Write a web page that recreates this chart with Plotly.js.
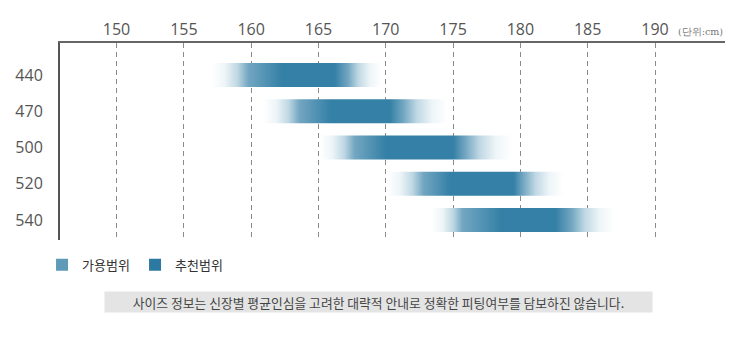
<!DOCTYPE html>
<html>
<head>
<meta charset="utf-8">
<script src="https://cdn.plot.ly/plotly-3.0.1.min.js"></script>
<style>html,body{margin:0;padding:0;background:#fff;}#chart{width:746px;height:351px;}</style>
</head>
<body>
<div id="chart"></div>
<script>
// Sizes (rows) and height ranges in cm
const sizes      = ['440', '470', '500', '520', '540'];
const fadeStart  = [157.1, 160.9, 165.1, 170.1, 173.4];
const availStart = [159.8, 163.6, 167.7, 172.8, 175.7];
const recStart   = [162.3, 165.9, 170.0, 174.8, 178.6];
const recEnd     = [166.2, 170.3, 175.0, 179.5, 182.6];
const availEnd   = [167.2, 171.3, 175.9, 180.2, 183.8];
const fadeEnd    = [169.7, 174.6, 179.4, 183.2, 187.0];
const xTicks     = [150, 155, 160, 165, 170, 175, 180, 185, 190];
const legendNames = ['가용범위', '추천범위'];
const unitLabel  = '(단위:cm)';
const noteText   = '사이즈 정보는 신장별 평균인심을 고려한 대략적 안내로 정확한 피팅여부를 담보하진 않습니다.';

const DARK = 'rgb(52,128,166)';
const MED = 'rgb(114,166,193)';
const PALE1 = 'rgb(238,245,248)';
const PALE2 = 'rgb(190,215,227)';
const WHITE = 'rgb(255,255,255)';
const legendColors = ['#5f9ab8', '#2c7aa1'];
const half = 0.33;

const traces = [];
sizes.forEach((s, i) => {
  const fs = fadeStart[i], fe = fadeEnd[i];
  const span = fe - fs;
  const n = v => (v - fs) / span;
  const a0 = n(availStart[i]), a1 = n(availEnd[i]);
  traces.push({
    type: 'scatter', mode: 'none', fill: 'toself',
    x: [fs, fe, fe, fs, fs],
    y: [i - half, i - half, i + half, i + half, i - half],
    fillgradient: {
      type: 'horizontal', start: fs, stop: fe,
      colorscale: [
        [0, WHITE],
        [a0 * 0.35, PALE1],
        [a0 * 0.7, PALE2],
        [a0, MED],
        [n(recStart[i]), DARK],
        [n(recEnd[i]), DARK],
        [a1, MED],
        [a1 + (1 - a1) * 0.3, PALE2],
        [a1 + (1 - a1) * 0.65, PALE1],
        [1, WHITE]
      ]
    },
    showlegend: false, hoverinfo: 'skip'
  });
});
legendNames.forEach((name, k) => {
  traces.push({
    type: 'bar', x: [null], y: [null], name: name,
    marker: {color: legendColors[k]}, showlegend: true, hoverinfo: 'skip'
  });
});

const layout = {
  width: 746, height: 351,
  margin: {l: 60, r: 21, t: 43, b: 111},
  paper_bgcolor: '#fff', plot_bgcolor: '#fff',
  font: {family: '"Open Sans", "Noto Sans CJK KR", sans-serif', color: '#555'},
  showlegend: true,
  xaxis: {
    side: 'top', range: [145.8, 195.2],
    tickvals: xTicks, ticktext: xTicks.map(String),
    tickfont: {size: 16, color: '#555'},
    showgrid: true, gridcolor: '#8a8a8a', griddash: '5px,4px', gridwidth: 1,
    showline: true, linecolor: '#666', linewidth: 2,
    zeroline: false, ticks: '', ticklabelstandoff: 0, fixedrange: true
  },
  yaxis: {
    range: [4.55, -0.88],
    tickvals: sizes.map((s, i) => i), ticktext: sizes,
    tickfont: {size: 16, color: '#555'},
    showgrid: false, zeroline: false,
    showline: true, linecolor: '#555', linewidth: 2,
    ticks: '', ticklabelstandoff: 12, fixedrange: true
  },
  legend: {
    orientation: 'h', x: -0.027, xanchor: 'left', y: -0.05, yanchor: 'top',
    entrywidth: 48, entrywidthmode: 'pixels',
    font: {family: '"Noto Sans CJK KR", sans-serif', size: 13, color: '#333'},
    bgcolor: 'rgba(0,0,0,0)', traceorder: 'normal'
  },
  annotations: [
    {xref: 'paper', yref: 'paper', x: 1.0, y: 1.056, xanchor: 'right', yanchor: 'middle',
     text: unitLabel, showarrow: false,
     font: {family: '"DejaVu Serif", serif', size: 9.5, color: '#777'}},
    {xref: 'paper', yref: 'paper', x: 0.479, y: -0.3147, xanchor: 'center', yanchor: 'middle',
     text: noteText, showarrow: false, width: 545, height: 18, bgcolor: '#e4e4e4',
     font: {family: '"Noto Sans CJK KR", sans-serif', size: 12.8, color: '#444'}}
  ]
};

Plotly.newPlot('chart', traces, layout, {staticPlot: true, displayModeBar: false});
</script>
</body>
</html>
